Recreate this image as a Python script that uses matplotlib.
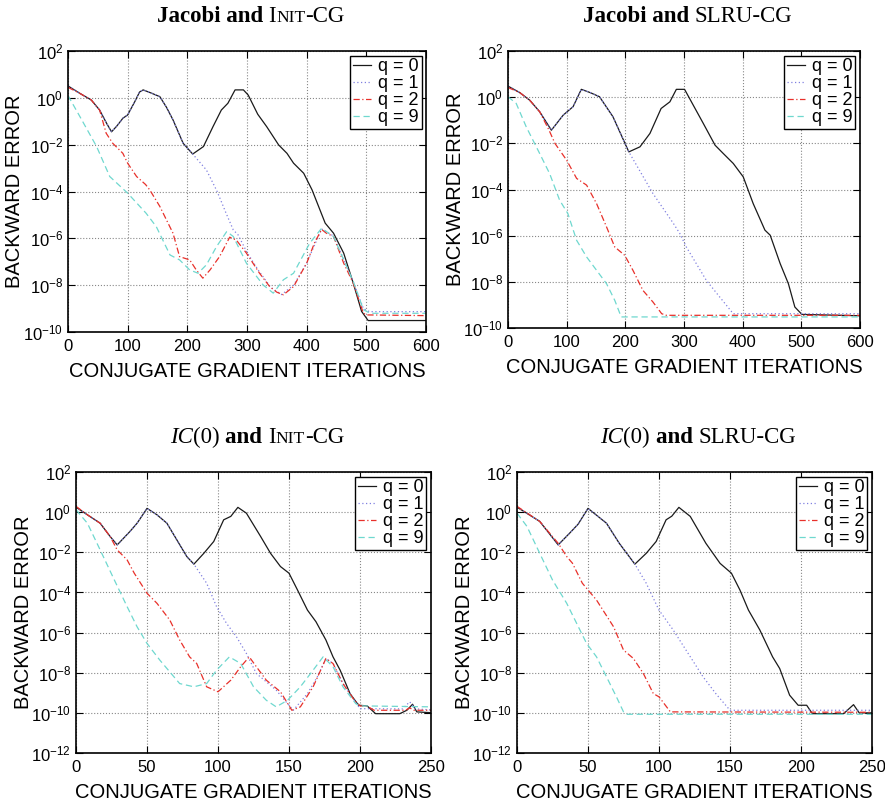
import matplotlib
matplotlib.use('Agg')
import matplotlib.pyplot as plt
import numpy as np
from matplotlib.offsetbox import TextArea, HPacker, AnchoredOffsetbox
from matplotlib.ticker import FixedLocator, LogFormatterMathtext, NullLocator

plt.rcParams['font.family'] = ['Liberation Sans', 'DejaVu Sans']
plt.rcParams['mathtext.default'] = 'regular'

### data: iterations and log10(backward error)
# Jacobi and INIT-CG
tl_q0_x = [0, 20, 39, 53, 65, 73, 82, 92, 100, 112, 120, 126, 140, 154, 165, 176, 193, 209, 227, 243, 257, 268,
           280, 294, 302, 318, 333, 353, 367, 378, 395, 409, 431, 445, 462, 478, 492, 503, 600]
tl_q0_y = [0.51, 0.19, -0.09, -0.52, -1.1, -1.45, -1.2, -0.87, -0.73, -0.16, 0.25, 0.34, 0.2, 0.05, -0.4, -0.94,
           -1.94, -2.4, -2.08, -1.23, -0.52, -0.23, 0.34, 0.34, 0.12, -0.7, -1.23, -2.01, -2.37, -2.79, -3.22, -3.93,
           -5.35, -5.78, -6.63, -7.91, -9.12, -9.51, -9.51]
tl_q1_x = [0, 20, 39, 53, 65, 73, 82, 92, 100, 112, 120, 126, 140, 154, 165, 176, 193, 209, 232, 250, 265, 277,
           285, 300, 320, 340, 358, 378, 400, 425, 445, 462, 478, 495, 505, 600]
tl_q1_y = [0.51, 0.19, -0.09, -0.52, -1.1, -1.45, -1.2, -0.87, -0.73, -0.16, 0.25, 0.34, 0.2, 0.05, -0.4, -0.94,
           -1.94, -2.4, -3.08, -4.0, -4.93, -5.64, -5.85, -6.6, -7.4, -8.1, -8.4, -8.0, -7.06, -5.6, -5.9, -6.9,
           -7.85, -9.0, -9.13, -9.13]
tl_q2_x = [0, 20, 39, 53, 64, 75, 92, 100, 115, 130, 137, 154, 176, 187, 204, 215, 226, 238, 254, 271, 282, 299,
           321, 338, 350, 361, 378, 400, 413, 425, 433, 445, 462, 478, 495, 501, 600]
tl_q2_y = [0.45, 0.19, -0.09, -0.52, -1.51, -1.94, -2.37, -2.79, -3.36, -3.7, -3.93, -4.64, -5.78, -6.78, -6.92,
           -7.35, -7.7, -7.35, -6.78, -5.95, -6.07, -6.63, -7.49, -8.06, -8.3, -8.41, -8.06, -7.06, -6.2, -5.62,
           -5.78, -5.92, -7.06, -7.91, -9.2, -9.27, -9.3]
tl_q9_x = [0, 20, 48, 70, 100, 131, 148, 171, 187, 204, 218, 232, 249, 266, 277, 299, 327, 344, 361, 378, 405,
           425, 445, 462, 478, 495, 506, 600]
tl_q9_y = [0.1, -0.8, -2.08, -3.36, -4.07, -4.93, -5.5, -6.71, -6.92, -7.35, -7.49, -7.13, -6.35, -5.71, -5.92,
           -7.06, -7.99, -8.34, -7.77, -7.49, -6.21, -5.57, -5.92, -6.92, -7.84, -9.04, -9.2, -9.2]

# Jacobi and SLRU-CG
tr_q0_x = [0, 20, 37, 54, 74, 94, 111, 125, 140, 156, 179, 206, 225, 242, 261, 276, 287, 301, 333, 353, 367, 384,
           401, 418, 438, 447, 464, 478, 489, 501, 600]
tr_q0_y = [0.48, 0.2, -0.13, -0.63, -1.43, -0.78, -0.41, 0.34, 0.2, 0.02, -0.85, -2.37, -2.15, -1.57, -0.49,
           -0.2, 0.34, 0.34, -1.14, -2.08, -2.44, -2.87, -3.45, -4.61, -5.76, -5.98, -7.21, -8.08, -9.09, -9.41,
           -9.47]
tr_q1_x = [0, 20, 37, 54, 74, 94, 111, 125, 140, 156, 179, 206, 247, 282, 293, 304, 338, 361, 384, 600]
tr_q1_y = [0.48, 0.2, -0.13, -0.63, -1.43, -0.78, -0.41, 0.34, 0.2, 0.02, -0.85, -2.37, -4.17, -5.47, -5.91,
           -6.49, -7.93, -8.66, -9.38, -9.38]
tr_q2_x = [0, 20, 37, 54, 70, 80, 100, 117, 134, 151, 168, 182, 199, 213, 230, 247, 262, 270, 600]
tr_q2_y = [0.42, 0.2, -0.13, -0.63, -1.43, -2.0, -2.73, -3.52, -3.81, -4.61, -5.62, -6.49, -6.85, -7.5, -8.37,
           -8.87, -9.38, -9.45, -9.45]
tr_q9_x = [0, 14, 31, 54, 71, 88, 102, 117, 134, 151, 168, 182, 193, 600]
tr_q9_y = [0.02, -0.27, -1.28, -2.44, -3.31, -4.46, -5.04, -6.2, -6.92, -7.5, -8.08, -8.8, -9.52, -9.52]

# IC(0) and INIT-CG
bl_q0_x = [0, 8, 17, 24, 29, 38, 43, 50, 57, 64, 71, 78, 83, 90, 97, 104, 109, 114, 120, 130, 137, 144, 150, 156,
           163, 169, 176, 181, 186, 193, 199, 205, 211, 228, 233, 237, 240, 250]
bl_q0_y = [0.25, -0.13, -0.55, -1.21, -1.63, -0.96, -0.55, 0.19, -0.13, -0.55, -1.38, -2.21, -2.59, -2.05, -1.46,
           -0.38, -0.21, 0.24, -0.05, -1.21, -2.05, -2.71, -3.04, -3.88, -4.88, -5.46, -6.37, -7.21, -7.87, -9.04,
           -9.62, -9.65, -10.04, -10.04, -9.87, -9.57, -9.95, -9.99]
bl_q1_x = [0, 8, 17, 24, 29, 38, 43, 50, 57, 64, 71, 78, 83, 92, 99, 106, 113, 120, 127, 134, 141, 149, 153, 163,
           170, 176, 181, 188, 196, 200, 230, 235, 239, 250]
bl_q1_y = [0.25, -0.13, -0.55, -1.21, -1.63, -0.96, -0.55, 0.19, -0.13, -0.55, -1.38, -2.21, -2.59, -3.54, -4.71,
           -5.54, -6.21, -7.04, -8.04, -8.45, -8.87, -9.54, -9.87, -9.04, -8.2, -7.29, -7.54, -8.54, -9.37, -9.79,
           -9.8, -9.45, -9.8, -9.85]
bl_q2_x = [0, 8, 17, 24, 29, 36, 41, 50, 57, 66, 73, 80, 85, 92, 100, 109, 116, 122, 127, 134, 144, 152, 158, 167,
           176, 181, 188, 196, 200, 205, 210, 232, 235, 238, 250]
bl_q2_y = [0.29, -0.13, -0.55, -1.21, -1.88, -2.38, -3.04, -4.04, -4.54, -5.37, -6.37, -7.21, -7.54, -8.7, -8.95,
           -8.37, -7.7, -7.21, -7.7, -8.37, -8.95, -9.87, -9.7, -8.7, -7.29, -7.54, -8.54, -9.37, -9.65, -9.67,
           -9.87, -9.87, -9.75, -9.87, -9.87]
bl_q9_x = [0, 8, 17, 27, 36, 43, 50, 59, 73, 83, 92, 99, 108, 116, 125, 134, 141, 149, 158, 167, 174, 181, 188,
           197, 200, 250]
bl_q9_y = [0.12, -0.55, -1.88, -3.38, -4.71, -5.71, -6.54, -7.37, -8.54, -8.7, -8.54, -7.87, -7.21, -7.54, -8.7,
           -9.37, -9.7, -9.37, -8.7, -7.87, -7.21, -7.7, -8.7, -9.54, -9.65, -9.7]

# IC(0) and SLRU-CG
br_q0_x = [0, 16, 29, 37, 43, 50, 63, 72, 83, 91, 98, 105, 109, 114, 122, 133, 143, 151, 157, 163, 171, 180, 185,
           192, 198, 204, 208, 230, 237, 241, 250]
br_q0_y = [0.25, -0.46, -1.63, -1.05, -0.6, 0.19, -0.55, -1.55, -2.59, -2.05, -1.46, -0.38, -0.2, 0.24, -0.21,
           -1.55, -2.55, -3.04, -3.88, -4.88, -5.87, -7.21, -7.79, -9.12, -9.62, -9.62, -10.04, -10.04, -9.59,
           -10.0, -10.0]
br_q1_x = [0, 16, 29, 37, 43, 50, 63, 72, 83, 91, 100, 110, 119, 131, 140, 150, 250]
br_q1_y = [0.25, -0.46, -1.63, -1.05, -0.6, 0.19, -0.55, -1.55, -2.59, -3.54, -4.88, -5.87, -6.87, -8.2, -9.04,
           -9.87, -9.87]
br_q2_x = [0, 16, 29, 35, 39, 46, 56, 68, 75, 82, 89, 96, 100, 108, 250]
br_q2_y = [0.29, -0.46, -1.55, -2.21, -2.54, -3.54, -4.38, -5.71, -6.87, -7.29, -8.04, -9.04, -9.2, -9.95, -9.97]
br_q9_x = [0, 7, 16, 25, 35, 42, 49, 56, 63, 70, 75, 77, 250]
br_q9_y = [-0.05, -0.71, -2.05, -3.38, -4.54, -5.54, -6.54, -7.21, -8.2, -9.2, -9.95, -10.07, -10.07]

labels = ['q = 0', 'q = 1', 'q = 2', 'q = 9']
colors = ['#1a1a1a', '#8080e0', '#e8302a', '#6fd8cf']
dash_patterns = [None, (1, 2), (5, 2, 1, 2), (5, 3)]

bold = dict(family='Liberation Serif', fontweight='bold', size=16.5)
reg = dict(family='Liberation Serif', size=16.5)
small = dict(family='Liberation Serif', size=12.5)
ital = dict(family='Liberation Serif', style='italic', size=16.5)


def add_title(ax, parts):
    boxes = [TextArea(t, textprops=p) for t, p in parts]
    pack = HPacker(children=boxes, align='baseline', pad=0, sep=0)
    ab = AnchoredOffsetbox(loc='lower center', child=pack, pad=0, borderpad=0, frameon=False,
                           bbox_to_anchor=(0.51, 1.085), bbox_transform=ax.transAxes)
    ax.add_artist(ab)


def panel(rect, series, xmax, xstep, ymin, title):
    ax = fig.add_axes(rect)
    for (xs, ys), lab, c, d in zip(series, labels, colors, dash_patterns):
        line, = ax.semilogy(xs, 10.0 ** np.array(ys), color=c, lw=0.9, label=lab)
        if d is not None:
            line.set_dashes(d)
    ax.set_xlim(0, xmax)
    ax.set_ylim(10.0 ** ymin, 1e2)
    ax.set_xticks(np.arange(0, xmax + 1, xstep))
    ax.yaxis.set_major_locator(FixedLocator(10.0 ** np.arange(ymin, 3, 2)))
    ax.yaxis.set_major_formatter(LogFormatterMathtext())
    ax.yaxis.set_minor_locator(NullLocator())
    ax.tick_params(direction='in', top=True, right=True, length=5, labelsize=12, width=0.8)
    ax.tick_params(axis='x', pad=5)
    ax.grid(True, ls=':', color='#888888', lw=0.8)
    for s in ax.spines.values():
        s.set_linewidth(1.2)
    ax.set_xlabel('CONJUGATE GRADIENT ITERATIONS', fontsize=14.5, labelpad=6)
    ax.set_ylabel('BACKWARD ERROR', fontsize=14.5, labelpad=-1)
    leg = ax.legend(loc='upper right', fontsize=13, labelspacing=0.0, handlelength=1.0,
                    handletextpad=0.4, borderpad=0.15, borderaxespad=0.25, fancybox=False,
                    framealpha=1, edgecolor='black')
    leg.get_frame().set_linewidth(1.0)
    add_title(ax, title)
    return ax


fig = plt.figure(figsize=(8.85, 8.01), dpi=100)

panel([0.0768, 0.5855, 0.4046, 0.3508],
      [(tl_q0_x, tl_q0_y), (tl_q1_x, tl_q1_y), (tl_q2_x, tl_q2_y), (tl_q9_x, tl_q9_y)],
      600, 100, -10, [('Jacobi and ', bold), ('I', reg), ('NIT', small), ('-CG', reg)])
panel([0.574, 0.5905, 0.3977, 0.3458],
      [(tr_q0_x, tr_q0_y), (tr_q1_x, tr_q1_y), (tr_q2_x, tr_q2_y), (tr_q9_x, tr_q9_y)],
      600, 100, -10, [('Jacobi and ', bold), ('SLRU-CG', reg)])
panel([0.0859, 0.0599, 0.4011, 0.3508],
      [(bl_q0_x, bl_q0_y), (bl_q1_x, bl_q1_y), (bl_q2_x, bl_q2_y), (bl_q9_x, bl_q9_y)],
      250, 50, -12, [('IC', ital), ('(0) ', reg), ('and ', bold), ('I', reg), ('NIT', small), ('-CG', reg)])
panel([0.5842, 0.0599, 0.4011, 0.3508],
      [(br_q0_x, br_q0_y), (br_q1_x, br_q1_y), (br_q2_x, br_q2_y), (br_q9_x, br_q9_y)],
      250, 50, -12, [('IC', ital), ('(0) ', reg), ('and ', bold), ('SLRU-CG', reg)])

fig.savefig('out.png', dpi=100)
